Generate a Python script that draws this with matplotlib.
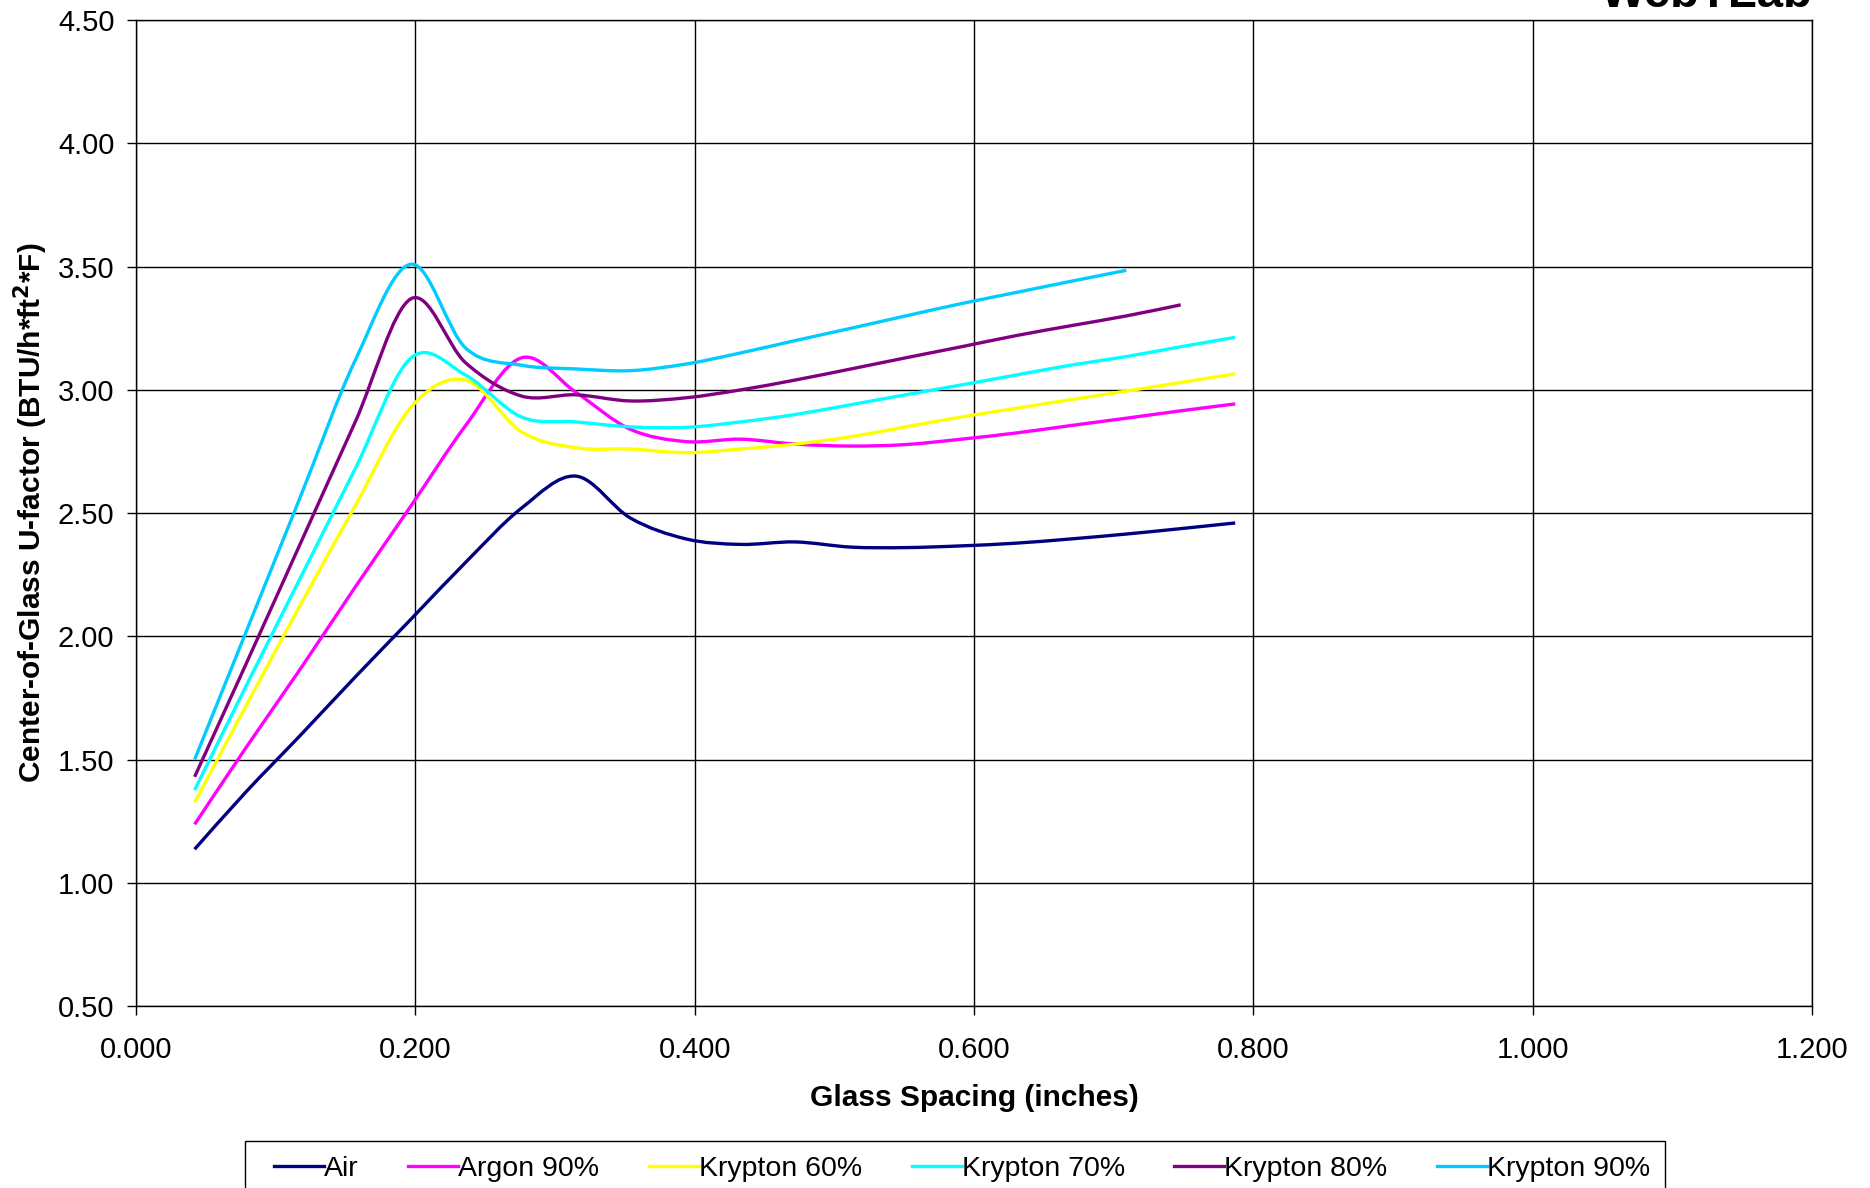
import numpy as np
import matplotlib
matplotlib.use("Agg")
import matplotlib.pyplot as plt
from matplotlib.path import Path
from matplotlib.patches import PathPatch, Rectangle
from matplotlib.lines import Line2D

plt.rcParams['font.family'] = ['Liberation Sans', 'DejaVu Sans']

# glass spacing (inches), one point per mm
spacing = [0.042, 0.079, 0.118, 0.157, 0.197, 0.236, 0.276, 0.315, 0.354, 0.394,
           0.433, 0.472, 0.512, 0.551, 0.591, 0.630, 0.669, 0.709, 0.748, 0.787]

air = [1.136, 1.37, 1.60, 1.835, 2.07, 2.30, 2.52, 2.65, 2.48, 2.395,
       2.373, 2.383, 2.362, 2.36, 2.367, 2.378, 2.395, 2.415, 2.437, 2.46]
argon90 = [1.237, 1.55, 1.87, 2.20, 2.53, 2.855, 3.13, 2.99, 2.84, 2.79,
           2.80, 2.78, 2.772, 2.778, 2.80, 2.825, 2.855, 2.885, 2.915, 2.943]
krypton60 = [1.326, 1.72, 2.13, 2.53, 2.93, 3.04, 2.83, 2.765, 2.76, 2.745,
             2.76, 2.78, 2.81, 2.85, 2.89, 2.925, 2.96, 2.995, 3.03, 3.065]
krypton70 = [1.376, 1.80, 2.24, 2.68, 3.13, 3.06, 2.89, 2.87, 2.85, 2.848,
             2.87, 2.90, 2.94, 2.98, 3.02, 3.06, 3.10, 3.135, 3.175, 3.213]
krypton80 = [1.43, 1.89, 2.38, 2.87, 3.37, 3.11, 2.975, 2.98, 2.955, 2.968,
             3.00, 3.04, 3.085, 3.13, 3.175, 3.22, 3.26, 3.30, 3.345]
krypton90 = [1.50, 2.02, 2.57, 3.12, 3.51, 3.17, 3.10, 3.085, 3.078, 3.105,
             3.15, 3.20, 3.25, 3.30, 3.35, 3.395, 3.44, 3.485]

labels = ['Air', 'Argon 90%', 'Krypton 60%', 'Krypton 70%', 'Krypton 80%', 'Krypton 90%']
series = [air, argon90, krypton60, krypton70, krypton80, krypton90]
colors = ['#000080', '#FF00FF', '#FFFF00', '#00FFFF', '#800080', '#00CCFF']


def smooth_path(xs, ys):
    # Excel style smoothed line: cubic bezier through every point
    p = np.column_stack([xs, ys])
    verts = [p[0]]
    codes = [Path.MOVETO]
    for i in range(len(p) - 1):
        p0 = p[i - 1] if i > 0 else p[i]
        p3 = p[i + 2] if i + 2 < len(p) else p[i + 1]
        c1 = p[i] + (p[i + 1] - p0) / 6.0
        c2 = p[i + 1] - (p3 - p[i]) / 6.0
        verts += [c1, c2, p[i + 1]]
        codes += [Path.CURVE4] * 3
    return Path(verts, codes)


fig = plt.figure(figsize=(18.7, 11.88), dpi=100)
ax = fig.add_axes([0.0727, 0.1532, 0.8963, 0.8298])

handles = []
for ys, c, lab in zip(series, colors, labels):
    xs = spacing[:len(ys)]
    ax.add_patch(PathPatch(smooth_path(xs, ys), fill=False, edgecolor=c, lw=2.4,
                           transform=ax.transData, zorder=3))
    handles.append(Line2D([], [], color=c, lw=2.4, label=lab))

ax.set_xlim(0, 1.2)
ax.set_ylim(0.5, 4.5)
ax.set_xticks(np.arange(0, 1.21, 0.2))
ax.set_yticks(np.arange(0.5, 4.51, 0.5))
ax.xaxis.set_major_formatter(matplotlib.ticker.FormatStrFormatter('%.3f'))
ax.yaxis.set_major_formatter(matplotlib.ticker.FormatStrFormatter('%.2f'))
ax.grid(True, color='black', lw=1.0)
ax.set_axisbelow(True)
for s in ax.spines.values():
    s.set_color('black')
    s.set_linewidth(1.0)
ax.tick_params(axis='both', direction='out', length=6.5, width=1.0, labelsize=21)
ax.tick_params(axis='x', pad=15)
ax.tick_params(axis='y', pad=9)

ax.set_xlabel('Glass Spacing (inches)', fontsize=21.5, fontweight='bold')
ax.xaxis.set_label_coords(0.5, -0.079)
ax.set_ylabel('Center-of-Glass U-factor (BTU/h*ft$^\\mathbf{2}$*F)', fontsize=21.5, fontweight='bold')
ax.yaxis.set_label_coords(-0.051, 0.5)

# legend box (runs off the bottom edge, as in the original)
fig.patches.append(Rectangle((245 / 1870, -0.05), (1665 - 245) / 1870, 0.05 + 1 - 1141 / 1188,
                             transform=fig.transFigure, fill=False, edgecolor='black', lw=1.0))
leg = fig.legend(handles=handles, loc='center left', bbox_to_anchor=(274 / 1870, 1 - 1169 / 1188),
                 ncol=6, fontsize=20.5, frameon=False, handlelength=1.75,
                 handletextpad=0.0, columnspacing=1.75, borderpad=0, borderaxespad=0)

fig.text(1813 / 1870, 1 - 7 / 1188, 'WebTLab', ha='right', va='baseline',
         fontsize=34, fontweight='heavy')

fig.savefig('out.png', dpi=100)
